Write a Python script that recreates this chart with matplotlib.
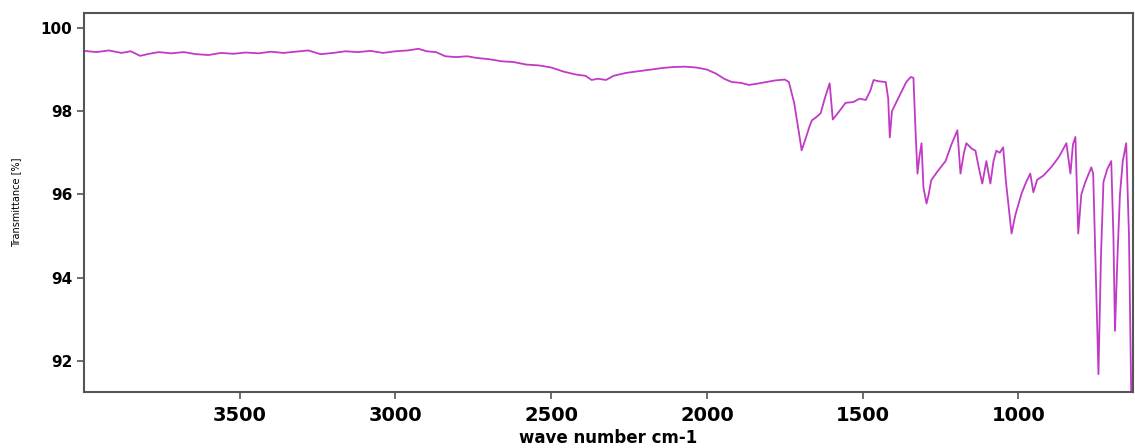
import matplotlib
matplotlib.use("Agg")
import matplotlib.pyplot as plt

# IR spectrum (wave number, transmittance %)
wavenumber = [4000, 3960, 3920, 3880, 3850, 3820, 3790, 3760, 3720, 3680,
              3640, 3600, 3560, 3520, 3480, 3440, 3400, 3360, 3320, 3280,
              3240, 3200, 3160, 3120, 3080, 3040, 3000, 2960, 2926, 2900,
              2870, 2840, 2805, 2770, 2740, 2700, 2660, 2620, 2580, 2540,
              2500, 2460, 2420, 2390, 2370, 2350, 2324, 2300, 2260, 2220,
              2180, 2140, 2110, 2070, 2035, 2000, 1970, 1945, 1920, 1890,
              1865, 1840, 1810, 1780, 1750, 1737, 1720, 1705, 1696, 1685,
              1670, 1663, 1650, 1635, 1620, 1606, 1596, 1580, 1555, 1530,
              1510, 1490, 1475, 1465, 1450, 1426, 1418, 1413, 1406, 1380,
              1360, 1346, 1337, 1330, 1324, 1318, 1311, 1305, 1295, 1288,
              1280, 1260, 1234, 1215, 1196, 1186, 1175, 1167, 1150, 1138,
              1126, 1116, 1103, 1090, 1080, 1071, 1060, 1049, 1040, 1022,
              1010, 990, 975, 962, 952, 940, 920, 894, 870, 846,
              833, 825, 817, 808, 798, 785, 766, 760, 743, 735,
              727, 715, 702, 695, 690, 682, 674, 665, 654, 645, 638]
transmittance = [99.45, 99.42, 99.46, 99.40, 99.44, 99.33, 99.38, 99.42, 99.39, 99.42,
                 99.37, 99.35, 99.40, 99.38, 99.41, 99.39, 99.43, 99.40, 99.43, 99.46,
                 99.37, 99.40, 99.44, 99.42, 99.45, 99.40, 99.44, 99.46, 99.50, 99.44,
                 99.42, 99.32, 99.30, 99.32, 99.28, 99.25, 99.20, 99.18, 99.12, 99.10,
                 99.05, 98.95, 98.88, 98.85, 98.75, 98.78, 98.75, 98.85, 98.92, 98.96,
                 99.00, 99.04, 99.06, 99.07, 99.05, 99.00, 98.90, 98.78, 98.70, 98.68,
                 98.63, 98.66, 98.70, 98.74, 98.76, 98.70, 98.20, 97.50, 97.06, 97.30,
                 97.65, 97.78, 97.85, 97.95, 98.35, 98.67, 97.80, 97.95, 98.20, 98.22,
                 98.30, 98.27, 98.50, 98.75, 98.72, 98.70, 98.30, 97.37, 98.00, 98.40,
                 98.70, 98.82, 98.80, 97.47, 96.50, 96.90, 97.23, 96.17, 95.78, 96.00,
                 96.34, 96.55, 96.80, 97.20, 97.54, 96.50, 97.00, 97.23, 97.10, 97.05,
                 96.60, 96.26, 96.80, 96.26, 96.80, 97.05, 97.00, 97.13, 96.30, 95.06,
                 95.50, 96.02, 96.30, 96.50, 96.05, 96.35, 96.45, 96.66, 96.90, 97.23,
                 96.50, 97.20, 97.38, 95.06, 96.00, 96.30, 96.65, 96.50, 91.68, 94.50,
                 96.30, 96.60, 96.80, 95.00, 92.72, 94.50, 96.00, 96.80, 97.23, 95.00, 91.28]

y_ticks = [92, 94, 96, 98, 100]
x_ticks = [3500, 3000, 2500, 2000, 1500, 1000]

fig = plt.figure(figsize=(11.35, 4.48), dpi=100)
ax = fig.add_axes([0.074, 0.125, 0.924, 0.846])

ax.plot(wavenumber, transmittance, color="#c13ac6", linewidth=1.3)

ax.set_xlim(4000, 633)
ax.set_ylim(91.25, 100.36)
ax.set_xticks(x_ticks)
ax.set_yticks(y_ticks)

for lbl in ax.get_xticklabels():
    lbl.set_fontfamily("DejaVu Sans")
    lbl.set_fontweight("bold")
    lbl.set_fontsize(14)
for lbl in ax.get_yticklabels():
    lbl.set_fontfamily("DejaVu Sans")
    lbl.set_fontweight("bold")
    lbl.set_fontsize(11)

ax.tick_params(axis="both", direction="out", length=5, width=1.2, color="#555555")
ax.tick_params(axis="x", pad=5)
for sp in ax.spines.values():
    sp.set_color("#555555")
    sp.set_linewidth(1.5)

ax.set_xlabel("wave number cm-1", fontfamily="DejaVu Sans", fontweight="bold",
              fontsize=12, labelpad=3)
ax.set_ylabel("Transmittance [%]", fontfamily="Liberation Sans Narrow", fontsize=7,
              labelpad=14)

fig.savefig("out.png", dpi=100)
